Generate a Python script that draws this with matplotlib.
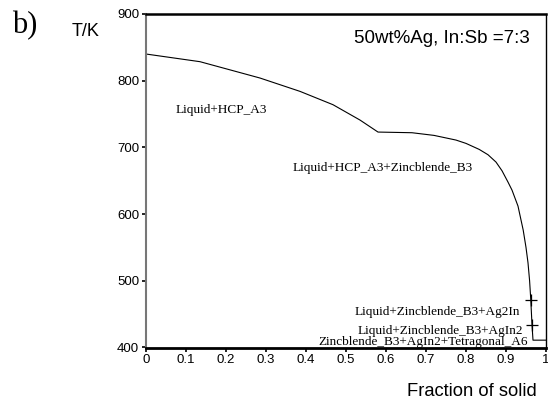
import matplotlib
matplotlib.use("Agg")
import matplotlib.pyplot as plt

# Data
frac_solid = [0.0, 0.135, 0.285, 0.385, 0.4675, 0.535, 0.58, 0.665, 0.72, 0.775,
              0.80, 0.833, 0.855, 0.875, 0.89, 0.905, 0.915, 0.93, 0.943, 0.95,
              0.955, 0.959, 0.962, 0.965, 0.9675, 1.0]
temperature = [840, 828.5, 804, 784, 764, 741, 723, 722, 718, 711,
                706, 697, 689, 678, 665, 648, 636, 612, 576, 550,
                527, 500, 471, 434, 411, 411]
marker_x = [0.962, 0.965]
marker_t = [471, 434]

x_ticks = [0, 0.1, 0.2, 0.3, 0.4, 0.5, 0.6, 0.7, 0.8, 0.9, 1]
x_tick_labels = ["0", "0.1", "0.2", "0.3", "0.4", "0.5", "0.6", "0.7", "0.8", "0.9", "1"]
y_ticks = [400, 500, 600, 700, 800, 900]

phase_labels = ["Liquid+HCP_A3", "Liquid+HCP_A3+Zincblende_B3",
                "Liquid+Zincblende_B3+Ag2In", "Liquid+Zincblende_B3+AgIn2",
                "Zincblende_B3+AgIn2+Tetragonal_A6"]
label_x = [0.1875, 0.5925, 0.935, 0.9425, 0.955]
label_t = [756, 669, 453, 424.5, 408]
label_ha = ["center", "center", "right", "right", "right"]

fig = plt.figure(figsize=(5.48, 4.0), dpi=100)
ax = fig.add_axes([146 / 548, 1 - 347.5 / 400, 400 / 548, 333.5 / 400])

ax.plot(frac_solid, temperature, color="black", lw=0.8)
ax.plot(marker_x, marker_t, ls="none", marker="+", color="black", ms=8, mew=0.9)

ax.set_xlim(0, 1)
ax.set_ylim(400, 900)
ax.set_xticks(x_ticks)
ax.set_xticklabels(x_tick_labels)
ax.set_yticks(y_ticks)
ax.tick_params(axis="both", labelsize=9.5, length=3, width=1.2, direction="out",
               pad=2)
for lab in ax.get_xticklabels() + ax.get_yticklabels():
    lab.set_family("Liberation Sans")

ax.spines["left"].set_color("#777777")
ax.spines["left"].set_linewidth(1.5)
ax.spines["top"].set_linewidth(1.8)
ax.spines["bottom"].set_linewidth(2.0)
ax.spines["right"].set_linewidth(1.0)

for txt, xx, tt, ha in zip(phase_labels, label_x, label_t, label_ha):
    ax.text(xx, tt, txt, ha=ha, va="center", fontsize=9.5,
            family="Liberation Serif")

ax.text(0.96, 864, "50wt%Ag, In:Sb =7:3", ha="right", va="center",
        fontsize=13.5, family="Liberation Sans")

fig.text(12 / 548, 1 - 26 / 400, "b)", ha="left", va="center", fontsize=22,
         family="Liberation Serif")
fig.text(72 / 548, 1 - 31 / 400, "T/K", ha="left", va="center", fontsize=13,
         family="Liberation Sans")
fig.text(537 / 548, 1 - 392 / 400, "Fraction of solid", ha="right", va="center",
         fontsize=13.2, family="Liberation Sans")

fig.savefig("out.png", dpi=100)
